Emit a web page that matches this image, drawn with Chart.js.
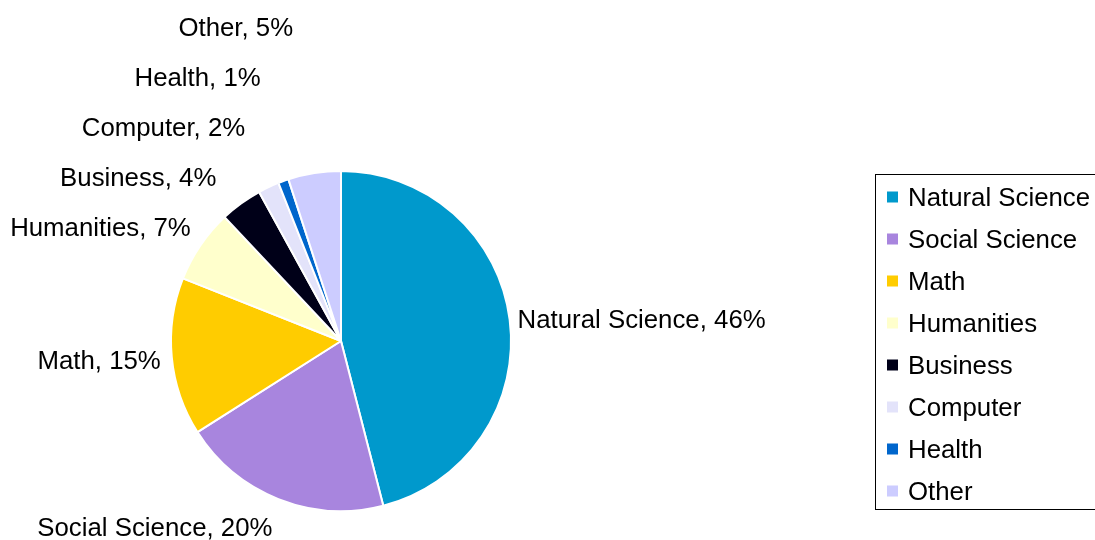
<!DOCTYPE html>
<html>
<head>
<meta charset="utf-8">
<script src="https://cdn.jsdelivr.net/npm/chart.js@4/dist/chart.umd.min.js"></script>
<style>
  html, body { margin: 0; padding: 0; background: #fff; overflow: hidden; }
  #wrap { width: 1095px; height: 540px; position: relative; }
</style>
</head>
<body>
<div id="wrap"><canvas id="pie"></canvas></div>
<script>
// Share of majors
const CATEGORIES = ["Natural Science", "Social Science", "Math", "Humanities", "Business", "Computer", "Health", "Other"];
const SHARES = [46, 20, 15, 7, 4, 2, 1, 5];
const COLORS = ["#0099CC", "#A885DE", "#FFCC00", "#FFFFCC", "#000018", "#E3E3FA", "#0066CC", "#CCCCFF"];

const FONT = '25.8px "Liberation Sans", Arial, sans-serif';

// Outside labels "Name, NN%" — placed off each slice's mid angle, then
// stacked upward on the left so the thin slices don't collide.
const sliceLabels = {
  id: "sliceLabels",
  afterDatasetsDraw(chart) {
    const ctx = chart.ctx;
    const arcs = chart.getDatasetMeta(0).data;
    const total = SHARES.reduce((a, b) => a + b, 0);
    const items = arcs.map((arc, i) => {
      const p = arc.getProps(["x", "y", "startAngle", "endAngle", "outerRadius"], true);
      const mid = (p.startAngle + p.endAngle) / 2;
      const R = p.outerRadius + 8;
      const c = Math.cos(mid), s = Math.sin(mid);
      const left = c < 0;
      return {
        text: CATEGORIES[i] + ", " + Math.round(SHARES[i] / total * 100) + "%",
        x: p.x + c * R + (left ? -3 : 0),
        y: p.y + s * R + (left ? s * (s < 0 ? 25 : 22) : 0) + 2,
        left: left,
      };
    });
    // resolve overlaps on the left side, bottom to top; a crowded label
    // snaps to the 50px stack and slides a little outward
    const leftSide = items.filter((it) => it.left).sort((a, b) => b.y - a.y);
    for (let i = 1; i < leftSide.length; i++) {
      const want = leftSide[i - 1].y - 50;
      if (leftSide[i].y > want - 5) {
        leftSide[i].y = want;
        leftSide[i].x -= 17;
      }
    }
    ctx.save();
    ctx.font = FONT;
    ctx.fillStyle = "#000";
    ctx.textBaseline = "middle";
    items.forEach((it) => {
      ctx.textAlign = it.left ? "right" : "left";
      ctx.fillText(it.text, it.x, it.y);
    });
    ctx.restore();
  },
};

// Boxed legend on the right, drawn from the same arrays
const boxLegend = {
  id: "boxLegend",
  afterDraw(chart) {
    const ctx = chart.ctx;
    const bx = 875, by = 174, bw = 260, bh = 335;
    ctx.save();
    ctx.strokeStyle = "#000";
    ctx.lineWidth = 1;
    ctx.strokeRect(bx + 0.5, by + 0.5, bw, bh);
    ctx.font = FONT;
    ctx.textAlign = "left";
    ctx.textBaseline = "middle";
    CATEGORIES.forEach((name, i) => {
      const cy = 197 + i * 42;
      ctx.fillStyle = COLORS[i];
      ctx.fillRect(887, cy - 5.5, 11, 11);
      ctx.fillStyle = "#000";
      ctx.fillText(name, 908, cy + 2);
    });
    ctx.restore();
  },
};

new Chart(document.getElementById("pie"), {
  type: "pie",
  data: {
    labels: CATEGORIES,
    datasets: [{
      data: SHARES,
      backgroundColor: COLORS,
      borderColor: "#fff",
      borderWidth: 2,
    }],
  },
  options: {
    responsive: true,
    maintainAspectRatio: false,
    animation: false,
    layout: { padding: { left: 170, right: 583, top: 170, bottom: 28 } },
    plugins: { legend: { display: false }, tooltip: { enabled: false } },
  },
  plugins: [sliceLabels, boxLegend],
});
</script>
</body>
</html>
